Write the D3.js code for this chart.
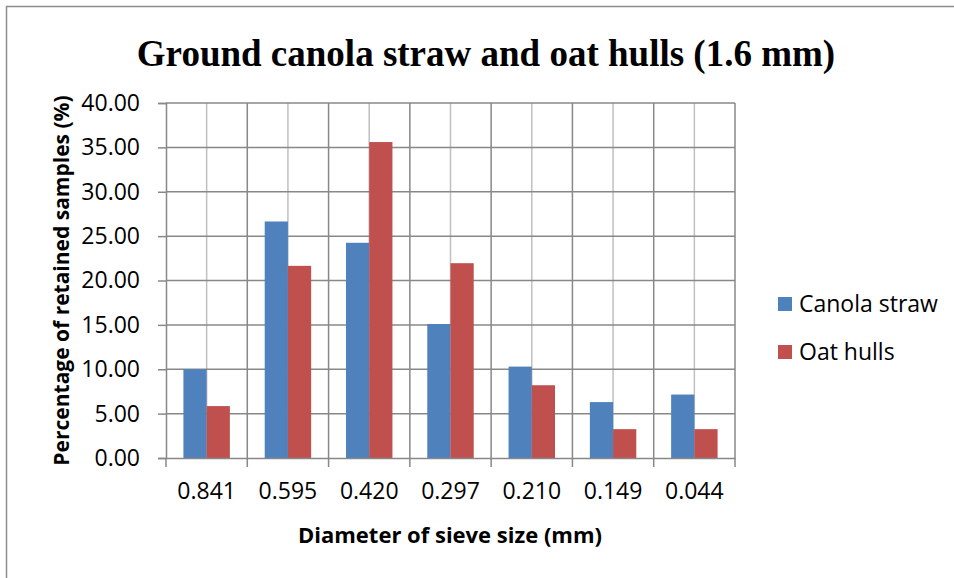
<!DOCTYPE html>
<html>
<head>
<meta charset="utf-8">
<script src="https://cdn.jsdelivr.net/npm/d3@7"></script>
<style>
  body { margin: 0; background: #fff; }
</style>
</head>
<body>
<div id="visualization"></div>
<script>
// Sieve sizes (mm) and retained percentages
const categories = ["0.841", "0.595", "0.420", "0.297", "0.210", "0.149", "0.044"];
const series = ["Canola straw", "Oat hulls"];
const canolaStraw = [10.0, 26.65, 24.25, 15.1, 10.3, 6.3, 7.15];
const oatHulls = [5.85, 21.65, 35.6, 21.95, 8.2, 3.25, 3.25];
const yTicks = [0, 5, 10, 15, 20, 25, 30, 35, 40];
const colors = ["#4F81BD", "#C0504D"];

const data = categories.map((c, i) => ({
  cat: c,
  values: [canolaStraw[i], oatHulls[i]],
}));

const width = 954;
const height = 578;
const margin = { top: 103, right: 219, bottom: 120, left: 166 };
const font = "'Open Sans', 'Noto Sans', sans-serif";

const svg = d3
  .select("#visualization")
  .append("svg")
  .attr("width", width)
  .attr("height", height);

// chart border
svg
  .append("rect")
  .attr("x", 6.5)
  .attr("y", 6.5)
  .attr("width", width + 10)
  .attr("height", height + 10)
  .attr("fill", "none")
  .attr("stroke", "#8c8c8c")
  .attr("stroke-width", 1.5);

const x0 = d3
  .scaleBand()
  .domain(categories)
  .range([margin.left, width - margin.right])
  .padding(0);

const bw = x0.bandwidth();
const x1 = d3
  .scaleBand()
  .domain(series)
  .range([(bw * 0.75) / 3.5, bw - (bw * 0.75) / 3.5])
  .padding(0);

const y = d3
  .scaleLinear()
  .domain([0, 40])
  .range([height - margin.bottom, margin.top]);

// light vertical gridlines at category centres
svg
  .append("g")
  .selectAll("line")
  .data(categories)
  .enter()
  .append("line")
  .attr("x1", (d) => x0(d) + bw / 2)
  .attr("x2", (d) => x0(d) + bw / 2)
  .attr("y1", y(0))
  .attr("y2", y(40))
  .attr("stroke", "#c0c0c0")
  .attr("stroke-width", 1.5);

// dark vertical gridlines at category boundaries
const bounds = categories.map((d) => x0(d)).concat([width - margin.right]);
svg
  .append("g")
  .selectAll("line")
  .data(bounds.slice(1))
  .enter()
  .append("line")
  .attr("x1", (d) => d)
  .attr("x2", (d) => d)
  .attr("y1", y(0))
  .attr("y2", y(40))
  .attr("stroke", "#888")
  .attr("stroke-width", 1.5);

// horizontal gridlines
svg
  .append("g")
  .selectAll("line")
  .data(yTicks.slice(1))
  .enter()
  .append("line")
  .attr("x1", margin.left)
  .attr("x2", width - margin.right)
  .attr("y1", (d) => y(d))
  .attr("y2", (d) => y(d))
  .attr("stroke", "#888")
  .attr("stroke-width", 1.5);

// Bars
svg
  .append("g")
  .selectAll("g")
  .data(data)
  .enter()
  .append("g")
  .attr("transform", (d) => `translate(${x0(d.cat)},0)`)
  .selectAll("rect")
  .data((d) => d.values.map((v, i) => ({ key: series[i], v: v, i: i })))
  .enter()
  .append("rect")
  .attr("x", (d) => x1(d.key))
  .attr("width", x1.bandwidth())
  .attr("y", (d) => y(d.v))
  .attr("height", (d) => y(0) - y(d.v))
  .attr("fill", (d) => colors[d.i]);

// Y Axis
const yAxis = svg
  .append("g")
  .attr("transform", `translate(${margin.left},0)`)
  .call(
    d3
      .axisLeft(y)
      .tickValues(yTicks)
      .tickFormat((d) => d.toFixed(2))
      .tickSize(8)
      .tickPadding(18)
  );
yAxis.selectAll("line, path").attr("stroke", "#888").attr("stroke-width", 1.5);
yAxis
  .selectAll("text")
  .attr("font-family", font)
  .attr("font-size", "23px")
  .attr("fill", "#000");

// X Axis
const xAxis = svg
  .append("g")
  .attr("transform", `translate(0,${y(0)})`)
  .call(d3.axisBottom(x0).tickSize(0).tickPadding(25));
xAxis.select("path").attr("stroke", "#888").attr("stroke-width", 1.5);
xAxis
  .selectAll("text")
  .attr("font-family", font)
  .attr("font-size", "23px")
  .attr("fill", "#000");
svg
  .append("g")
  .selectAll("line")
  .data(bounds)
  .enter()
  .append("line")
  .attr("x1", (d) => d)
  .attr("x2", (d) => d)
  .attr("y1", y(0))
  .attr("y2", y(0) + 9)
  .attr("stroke", "#888")
  .attr("stroke-width", 1.5);

// Axis titles
svg
  .append("text")
  .attr("x", 450)
  .attr("y", 543)
  .attr("text-anchor", "middle")
  .attr("font-family", font)
  .attr("font-size", "22px")
  .attr("font-weight", "bold")
  .text("Diameter of sieve size (mm)");

svg
  .append("text")
  .attr("transform", `translate(69,${(y(0) + y(40)) / 2}) rotate(-90)`)
  .attr("text-anchor", "middle")
  .attr("font-family", font)
  .attr("font-size", "21px")
  .attr("font-weight", "bold")
  .text("Percentage of retained samples (%)");

// Chart Title
svg
  .append("text")
  .attr("x", 486)
  .attr("y", 66)
  .attr("text-anchor", "middle")
  .attr("font-family", "'Liberation Serif', 'Times New Roman', serif")
  .attr("font-size", "37px")
  .attr("font-weight", "bold")
  .text("Ground canola straw and oat hulls (1.6 mm)");

// Legend
const legend = svg
  .append("g")
  .selectAll("g")
  .data(series)
  .enter()
  .append("g")
  .attr("transform", (d, i) => `translate(778,${297 + i * 48})`);
legend
  .append("rect")
  .attr("width", 14)
  .attr("height", 14)
  .attr("fill", (d, i) => colors[i]);
legend
  .append("text")
  .attr("x", 21)
  .attr("y", 15)
  .attr("font-family", font)
  .attr("font-size", "23px")
  .attr("fill", "#000")
  .text((d) => d);
</script>
</body>
</html>
